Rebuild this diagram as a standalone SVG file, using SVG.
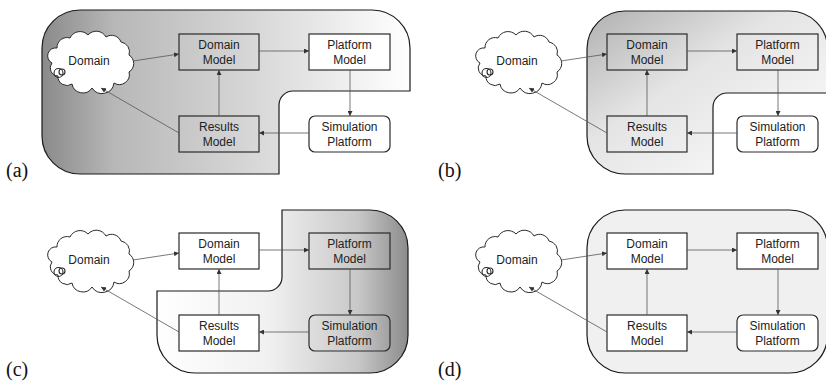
<svg xmlns="http://www.w3.org/2000/svg" xmlns:xlink="http://www.w3.org/1999/xlink" width="826" height="383" viewBox="0 0 826 383">
  <style>
    .region { stroke: #1a1a1a; stroke-width: 1.2; }
    .box { stroke: #2a2a2a; stroke-width: 1.2; }
    .shaded { fill: none; }
    .plain { fill: #ffffff; }
    .cloud { fill: #ffffff; stroke: #2a2a2a; stroke-width: 1; }
    .ring { fill: none; stroke: #2a2a2a; stroke-width: 1.1; }
    .lbl { font-family: "Liberation Sans", Arial, sans-serif; font-size: 12px; fill: #222; text-anchor: middle; }
    .cap { font-family: "Liberation Serif", "DejaVu Serif", serif; font-size: 20px; fill: #111; }
    .conn line { stroke: #555; stroke-width: 0.8; marker-end: url(#arr); }
  </style>
  <defs>
    <marker id="arr" viewBox="0 0 6 6" refX="6" refY="3" markerWidth="5" markerHeight="5" orient="auto" markerUnits="userSpaceOnUse">
      <path d="M0,0 L6,3 L0,6 z" fill="#333"/>
    </marker>
    <linearGradient id="gradA" x1="0" y1="0" x2="1" y2="0">
      <stop offset="0" stop-color="#8a8a8a"/>
      <stop offset="0.2" stop-color="#b8b8b8"/>
      <stop offset="0.55" stop-color="#d5d5d5"/>
      <stop offset="1" stop-color="#ffffff"/>
    </linearGradient>
    <linearGradient id="gradB" x1="0" y1="0" x2="1" y2="1">
      <stop offset="0" stop-color="#b0b0b0"/>
      <stop offset="0.4" stop-color="#e4e4e4"/>
      <stop offset="1" stop-color="#ffffff"/>
    </linearGradient>
    <linearGradient id="gradC" x1="0" y1="0" x2="1" y2="0">
      <stop offset="0" stop-color="#ffffff"/>
      <stop offset="0.45" stop-color="#f0f0f0"/>
      <stop offset="0.8" stop-color="#c8c8c8"/>
      <stop offset="1" stop-color="#8c8c8c"/>
    </linearGradient>
    <path id="cloudShape" class="cloud" d="M57,48 A10 10 0 0 1 70,38 A11 11 0 0 1 88,35 A11 11 0 0 1 106,37 A10 10 0 0 1 121,42 A10 10 0 0 1 129,55 A10 10 0 0 1 129,72 A10 10 0 0 1 114,83 A12 12 0 0 1 92,88 A11 11 0 0 1 72,84 A9 9 0 0 1 58,76 A8 8 0 0 1 52,63 A8 8 0 0 1 57,48 Z"/>
  </defs>

  <!-- (a) -->
  <g id="panel-a">
    <path class="region" fill="url(#gradA)" d="M80,10 H372 A38 38 0 0 1 410,48 V91 H293 A14 14 0 0 0 279,105 V174 H80 A38 38 0 0 1 42,136 V48 A38 38 0 0 1 80,10 Z"/>
    <g id="a-domain">
      <use xlink:href="#cloudShape"/>
      <circle class="ring" cx="58.5" cy="73" r="4.5"/><circle class="ring" cx="62" cy="72" r="3"/>
      <text class="lbl" x="89" y="65">Domain</text>
    </g>
    <g id="a-domain-model"><rect class="box shaded" x="179" y="34" width="80" height="36"/><text class="lbl" x="219" y="49">Domain</text><text class="lbl" x="219" y="64">Model</text></g>
    <g id="a-platform-model"><rect class="box plain" x="309" y="34" width="81" height="36"/><text class="lbl" x="349.5" y="49">Platform</text><text class="lbl" x="349.5" y="64">Model</text></g>
    <g id="a-results-model"><rect class="box shaded" x="179" y="116" width="80" height="36"/><text class="lbl" x="219" y="131">Results</text><text class="lbl" x="219" y="146">Model</text></g>
    <g id="a-simulation-platform"><rect class="box plain" x="309" y="116" width="81" height="36" rx="6"/><text class="lbl" x="349.5" y="131">Simulation</text><text class="lbl" x="349.5" y="146">Platform</text></g>
    <g class="conn" id="a-connectors">
      <line x1="133" y1="61" x2="179" y2="54"/>
      <line x1="259" y1="51" x2="309" y2="51"/>
      <line x1="350" y1="70" x2="350" y2="116"/>
      <line x1="309" y1="133" x2="259" y2="133"/>
      <line x1="219" y1="116" x2="219" y2="70"/>
      <line x1="179" y1="133" x2="101" y2="88"/>
    </g>
    <text class="cap" x="6" y="177">(a)</text>
  </g>

  <!-- (b) -->
  <g id="panel-b" transform="translate(428,0)">
    <path class="region" fill="url(#gradB)" d="M197,11 H361.5 A38 38 0 0 1 399.5,49 V93 H299 A14 14 0 0 0 285,107 V174 H197 A38 38 0 0 1 159,136 V49 A38 38 0 0 1 197,11 Z"/>
    <g id="b-domain">
      <use xlink:href="#cloudShape"/>
      <circle class="ring" cx="58.5" cy="73" r="4.5"/><circle class="ring" cx="62" cy="72" r="3"/>
      <text class="lbl" x="89" y="65">Domain</text>
    </g>
    <g id="b-domain-model"><rect class="box shaded" x="179" y="34" width="80" height="36"/><text class="lbl" x="219" y="49">Domain</text><text class="lbl" x="219" y="64">Model</text></g>
    <g id="b-platform-model"><rect class="box shaded" x="309" y="34" width="81" height="36"/><text class="lbl" x="349.5" y="49">Platform</text><text class="lbl" x="349.5" y="64">Model</text></g>
    <g id="b-results-model"><rect class="box shaded" x="179" y="116" width="80" height="36"/><text class="lbl" x="219" y="131">Results</text><text class="lbl" x="219" y="146">Model</text></g>
    <g id="b-simulation-platform"><rect class="box plain" x="309" y="116" width="81" height="36" rx="6"/><text class="lbl" x="349.5" y="131">Simulation</text><text class="lbl" x="349.5" y="146">Platform</text></g>
    <g class="conn" id="b-connectors">
      <line x1="133" y1="61" x2="179" y2="54"/>
      <line x1="259" y1="51" x2="309" y2="51"/>
      <line x1="350" y1="70" x2="350" y2="116"/>
      <line x1="309" y1="133" x2="259" y2="133"/>
      <line x1="219" y1="116" x2="219" y2="70"/>
      <line x1="179" y1="133" x2="101" y2="88"/>
    </g>
    <text class="cap" x="10" y="177">(b)</text>
  </g>

  <!-- (c) -->
  <g id="panel-c" transform="translate(0,199)">
    <path class="region" fill="url(#gradC)" d="M282,11 H370 A38 38 0 0 1 408,49 V136 A38 38 0 0 1 370,174 H195 A38 38 0 0 1 157,136 V92 H268 A14 14 0 0 0 282,78 Z"/>
    <g id="c-domain">
      <use xlink:href="#cloudShape"/>
      <circle class="ring" cx="58.5" cy="73" r="4.5"/><circle class="ring" cx="62" cy="72" r="3"/>
      <text class="lbl" x="89" y="65">Domain</text>
    </g>
    <g id="c-domain-model"><rect class="box plain" x="179" y="34" width="80" height="36"/><text class="lbl" x="219" y="49">Domain</text><text class="lbl" x="219" y="64">Model</text></g>
    <g id="c-platform-model"><rect class="box shaded" x="309" y="34" width="81" height="36"/><text class="lbl" x="349.5" y="49">Platform</text><text class="lbl" x="349.5" y="64">Model</text></g>
    <g id="c-results-model"><rect class="box plain" x="179" y="116" width="80" height="36"/><text class="lbl" x="219" y="131">Results</text><text class="lbl" x="219" y="146">Model</text></g>
    <g id="c-simulation-platform"><rect class="box shaded" x="309" y="116" width="81" height="36" rx="6"/><text class="lbl" x="349.5" y="131">Simulation</text><text class="lbl" x="349.5" y="146">Platform</text></g>
    <g class="conn" id="c-connectors">
      <line x1="133" y1="61" x2="179" y2="54"/>
      <line x1="259" y1="51" x2="309" y2="51"/>
      <line x1="350" y1="70" x2="350" y2="116"/>
      <line x1="309" y1="133" x2="259" y2="133"/>
      <line x1="219" y1="116" x2="219" y2="70"/>
      <line x1="179" y1="133" x2="101" y2="88"/>
    </g>
    <text class="cap" x="6" y="177">(c)</text>
  </g>

  <!-- (d) -->
  <g id="panel-d" transform="translate(428,199)">
    <rect class="region" fill="#f0f0f0" x="159" y="11" width="240.5" height="163" rx="38"/>
    <g id="d-domain">
      <use xlink:href="#cloudShape"/>
      <circle class="ring" cx="58.5" cy="73" r="4.5"/><circle class="ring" cx="62" cy="72" r="3"/>
      <text class="lbl" x="89" y="65">Domain</text>
    </g>
    <g id="d-domain-model"><rect class="box plain" x="179" y="34" width="80" height="36"/><text class="lbl" x="219" y="49">Domain</text><text class="lbl" x="219" y="64">Model</text></g>
    <g id="d-platform-model"><rect class="box plain" x="309" y="34" width="81" height="36"/><text class="lbl" x="349.5" y="49">Platform</text><text class="lbl" x="349.5" y="64">Model</text></g>
    <g id="d-results-model"><rect class="box plain" x="179" y="116" width="80" height="36"/><text class="lbl" x="219" y="131">Results</text><text class="lbl" x="219" y="146">Model</text></g>
    <g id="d-simulation-platform"><rect class="box plain" x="309" y="116" width="81" height="36" rx="6"/><text class="lbl" x="349.5" y="131">Simulation</text><text class="lbl" x="349.5" y="146">Platform</text></g>
    <g class="conn" id="d-connectors">
      <line x1="133" y1="61" x2="179" y2="54"/>
      <line x1="259" y1="51" x2="309" y2="51"/>
      <line x1="350" y1="70" x2="350" y2="116"/>
      <line x1="309" y1="133" x2="259" y2="133"/>
      <line x1="219" y1="116" x2="219" y2="70"/>
      <line x1="179" y1="133" x2="101" y2="88"/>
    </g>
    <text class="cap" x="10" y="177">(d)</text>
  </g>
</svg>
